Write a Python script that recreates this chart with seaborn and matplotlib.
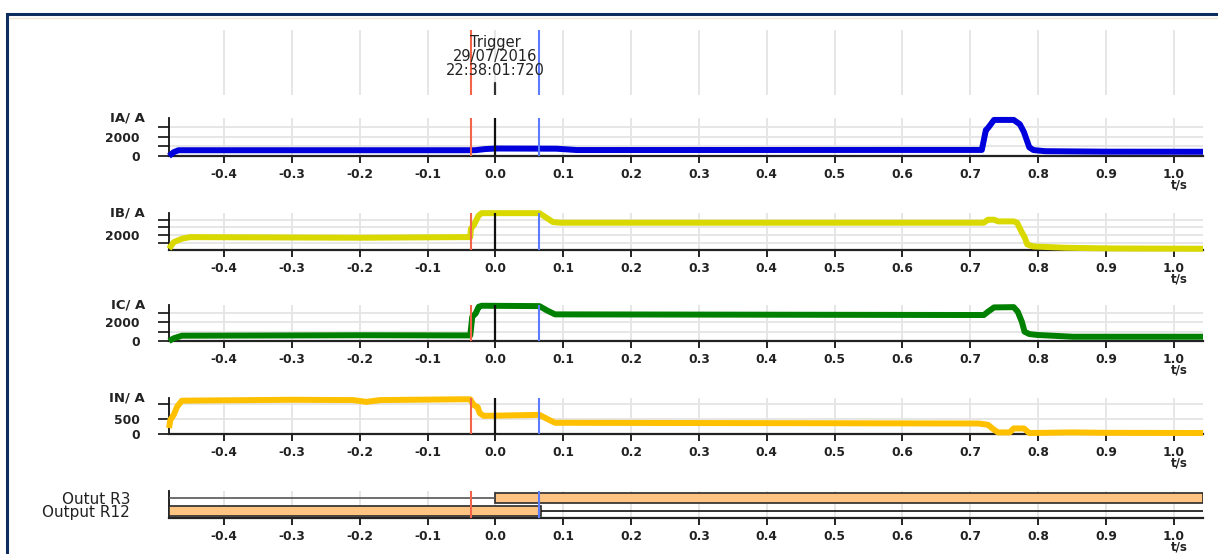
import matplotlib
matplotlib.use("Agg")
import matplotlib.pyplot as plt
import pandas as pd
import seaborn as sns
from matplotlib.patches import Rectangle
from matplotlib.lines import Line2D

# marcadores de tiempo (s)
t_red = -0.036
t_trigger = 0.0
t_blue = 0.064
trigger_text = "Trigger\n29/07/2016\n22:38:01:720"

x_ticks = [-0.4, -0.3, -0.2, -0.1, 0.0, 0.1, 0.2, 0.3, 0.4, 0.5, 0.6, 0.7, 0.8, 0.9, 1.0]
x_tick_labels = ["-0.4", "-0.3", "-0.2", "-0.1", "0.0", "0.1", "0.2", "0.3", "0.4",
                 "0.5", "0.6", "0.7", "0.8", "0.9", "1.0"]
t_start = -0.481
t_end = 1.043

# corriente IA
t_ia = [-0.481, -0.474, -0.467, -0.03, -0.015, 0.0, 0.09, 0.12, 0.58, 0.717, 0.723,
        0.726, 0.735, 0.764, 0.773, 0.779, 0.787, 0.793, 0.81, 0.9, 1.043]
ia = [0, 400, 600, 600, 720, 780, 760, 620, 630, 630, 2700,
      2900, 3750, 3750, 3300, 2500, 900, 620, 500, 450, 440]

# corriente IB
t_ib = [-0.481, -0.474, -0.462, -0.45, -0.2, -0.05, -0.037, -0.036, -0.032, -0.0245, -0.02,
        0.065, 0.074, 0.085, 0.097, 0.72, 0.726, 0.735, 0.741, 0.764, 0.769, 0.776,
        0.78, 0.784, 0.793, 0.84, 0.909, 1.043]
ib = [220, 1080, 1520, 1730, 1650, 1730, 1730, 2820, 3250, 4550, 4840,
      4840, 4320, 3680, 3600, 3600, 3990, 3990, 3770, 3770, 3600, 2340,
      1730, 780, 520, 350, 260, 220]

# corriente IC
t_ic = [-0.481, -0.474, -0.462, -0.2, -0.037, -0.034, -0.029, -0.0245, -0.02,
        0.065, 0.077, 0.088, 0.72, 0.726, 0.735, 0.764, 0.77, 0.776, 0.78, 0.787,
        0.799, 0.851, 1.043]
ic = [0, 290, 570, 620, 600, 2610, 2970, 3690, 3800,
      3760, 3260, 2870, 2800, 3150, 3620, 3650, 3150, 2080, 1000, 750,
      650, 460, 460]

# corriente IN
t_in = [-0.481, -0.479, -0.474, -0.469, -0.462, -0.3, -0.21, -0.19, -0.17, -0.05,
        -0.037, -0.032, -0.026, -0.023, -0.017, 0.065, 0.077, 0.088, 0.712, 0.726,
        0.735, 0.741, 0.758, 0.764, 0.779, 0.787, 0.85, 0.9, 1.043]
i_n = [200, 480, 643, 920, 1120, 1150, 1140, 1080, 1140, 1167,
       1167, 977, 900, 700, 610, 643, 500, 377, 353, 310,
       143, 53, 53, 187, 187, 33, 53, 40, 33]

canales = ["IA/ A", "IB/ A", "IC/ A", "IN/ A"]
tiempos = [t_ia, t_ib, t_ic, t_in]
valores = [ia, ib, ic, i_n]
colores = ["#0000DD", "#D9D900", "#008000", "#FFC000"]
y_lims = [(0, 3950), (60, 4860), (0, 3880), (0, 1210)]
y_ticks = [[0, 1000, 2000, 3000], [1000, 2000, 3000, 4000],
           [0, 1000, 2000, 3000], [0, 500, 1000]]
y_tick_labels = [["0", "", "2000", ""], ["", "2000", "", ""],
                 ["0", "", "2000", ""], ["0", "500", ""]]

# salidas digitales: intervalo activo
salidas = ["Outut R3", "Output R12"]
salida_on = [(0.0, 1.043), (-0.481, 0.068)]
salida_off = [(-0.481, 0.0), (0.068, 1.043)]

sns.set_theme(style="white")
plt.rcParams["font.family"] = ["DejaVu Sans"]
txt_color = "#222222"
grid_color = "#E4E4E4"

W, H = 1218, 554
fig = plt.figure(figsize=(W / 100, H / 100), dpi=100)

left = 169 / W
width = (1203 - 169) / W


def make_ax(top_px, bottom_px):
    return fig.add_axes([left, 1 - bottom_px / H, width, (bottom_px - top_px) / H])


def marker_lines(ax, with_black=True):
    ax.axvline(t_red, color="#F4644A", lw=1.5, zorder=5)
    if with_black:
        ax.axvline(t_trigger, color="#111111", lw=1.6, zorder=5)
    ax.axvline(t_blue, color="#5C7CFF", lw=1.5, zorder=5)


def style_x(ax):
    ax.set_xlim(t_start, t_end)
    ax.set_xticks(x_ticks)
    ax.set_xticklabels(x_tick_labels)
    ax.tick_params(axis="x", bottom=True, length=5, width=1.4, pad=3.5,
                   labelsize=8.8, labelcolor=txt_color, color="#222222")
    for lab in ax.get_xticklabels():
        lab.set_fontweight("bold")
    ax.grid(True, axis="x", color=grid_color, lw=1.3)
    # etiqueta de unidades debajo del 1.0
    ax.annotate("t/s", xy=(1.0, 0), xycoords=("data", "axes fraction"),
                xytext=(5, -29), textcoords="offset pixels", ha="center", va="center",
                fontsize=8.5, fontweight="bold", color=txt_color)
    for s in ["top", "right"]:
        ax.spines[s].set_visible(False)
    ax.spines["left"].set_color("#111111")
    ax.spines["left"].set_linewidth(1.3)
    ax.spines["bottom"].set_color("#222222")
    ax.spines["bottom"].set_linewidth(1.6)
    ax.set_xlabel("")
    ax.set_ylabel("")


# panel superior del trigger
ax0 = make_ax(30, 95)
ax0.set_xlim(t_start, t_end)
ax0.set_ylim(0, 1)
ax0.set_xticks(x_ticks)
ax0.set_yticks([])
ax0.tick_params(axis="x", length=0, labelbottom=False)
ax0.grid(True, axis="x", color=grid_color, lw=1.3)
for s in ax0.spines.values():
    s.set_visible(False)
ax0.axvline(t_red, color="#F4644A", lw=1.5)
ax0.axvline(t_blue, color="#5C7CFF", lw=1.5)
ax0.axvline(t_trigger, 0, 0.18, color="#333333", lw=1.6)
ax0.text(t_trigger, 0.59, trigger_text, ha="center", va="center", fontsize=10.5,
         linespacing=0.92, color=txt_color)

# paneles analogicos
panel_px = [(118, 156), (213, 250), (305, 341), (398, 434)]
for i in range(len(canales)):
    ax = make_ax(*panel_px[i])
    df = pd.DataFrame({"t": tiempos[i], "v": valores[i]})
    sns.lineplot(data=df, x="t", y="v", ax=ax, color=colores[i], linewidth=4.3,
                 estimator=None, sort=False, clip_on=False, zorder=3,
                 solid_joinstyle="round", solid_capstyle="butt")
    ax.set_ylim(*y_lims[i])
    ax.set_yticks(y_ticks[i])
    ax.set_yticklabels(y_tick_labels[i])
    ax.tick_params(axis="y", left=True, length=8, width=1.3, pad=13,
                   labelsize=8.8, labelcolor=txt_color, color="#222222")
    for lab in ax.get_yticklabels():
        lab.set_fontweight("bold")
    ax.grid(True, axis="y", color=grid_color, lw=1.3)
    style_x(ax)
    marker_lines(ax)
    ax.annotate(canales[i], xy=(0, 1), xycoords="axes fraction", xytext=(-24, 0),
                textcoords="offset pixels", ha="right", va="center",
                fontsize=9.5, fontweight="bold", color=txt_color)

# panel de salidas digitales
axd = make_ax(491, 518)
filas = [1.5, 0.5]
axd.set_ylim(0, 2)
for j in range(len(salidas)):
    a, b = salida_on[j]
    axd.barh(filas[j], b - a, left=a, height=0.72, color="#FFC382",
             edgecolor="#2A2A2A", linewidth=1.2, zorder=3)
    c, d = salida_off[j]
    axd.hlines(filas[j], c, d, color="#555555" if j == 0 else "#111111", lw=1.2, zorder=3)
axd.set_yticks(filas)
axd.set_yticklabels(salidas)
axd.tick_params(axis="y", left=False, pad=22, labelsize=11, labelcolor=txt_color)
style_x(axd)
marker_lines(axd, with_black=False)

# marco de la captura
fig.add_artist(Rectangle((7 / W, -0.05), 1.1, 1.05 - 14 / H, transform=fig.transFigure,
                         fill=False, edgecolor="#0E2D5E", linewidth=2.2))
fig.add_artist(Line2D([9 / W, 1], [1 - 17.5 / H, 1 - 17.5 / H], transform=fig.transFigure,
                      color="#EDE6D0", lw=1))

fig.savefig("out.png", dpi=100, facecolor="white")
